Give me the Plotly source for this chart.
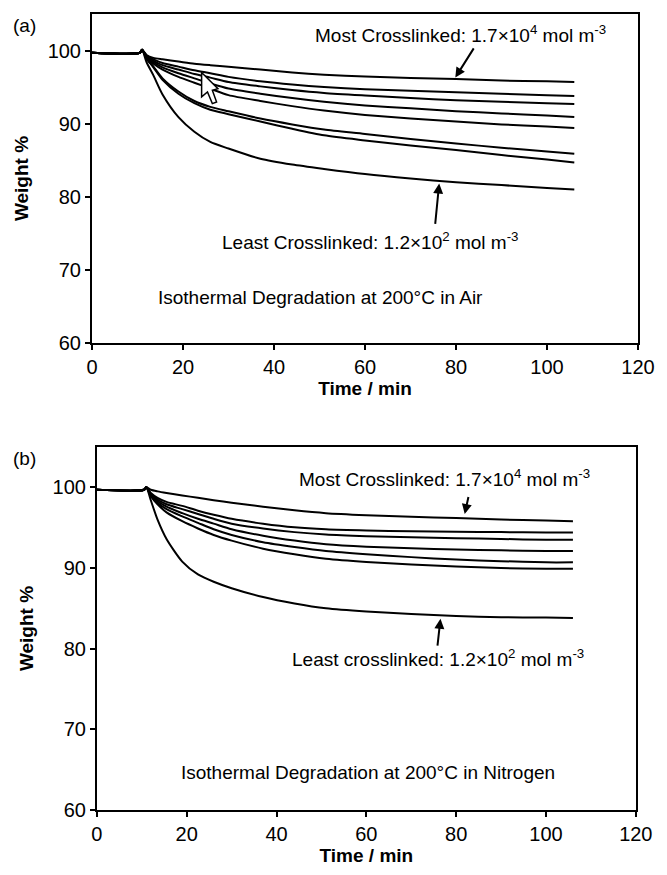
import plotly.graph_objects as go

# ---------------- data ----------------
time_min = [0, 10.5, 11, 12, 13.5, 15.5, 19, 22.5, 26, 30, 37, 44, 51, 60, 70, 80, 90, 100, 106]

air_curves = [
    [99.7, 99.7, 100.1, 99.4, 99.0, 98.8, 98.5, 98.2, 98.0, 97.8, 97.4, 97.0, 96.7, 96.45, 96.25, 96.1, 95.9, 95.8, 95.7],
    [99.7, 99.7, 100.1, 99.3, 98.8, 98.3, 97.8, 97.3, 96.9, 96.4, 95.8, 95.35, 95.0, 94.7, 94.5, 94.3, 94.1, 93.9, 93.8],
    [99.7, 99.7, 100.1, 99.2, 98.6, 98.0, 97.4, 96.8, 96.3, 95.7, 95.1, 94.6, 94.2, 93.85, 93.5, 93.2, 93.0, 92.8, 92.7],
    [99.7, 99.7, 100.1, 99.1, 98.4, 97.7, 96.9, 96.2, 95.5, 94.8, 94.1, 93.5, 93.0, 92.5, 92.1, 91.7, 91.4, 91.1, 90.9],
    [99.7, 99.7, 100.1, 99.0, 98.2, 97.4, 96.4, 95.6, 94.8, 93.9, 93.1, 92.4, 91.8, 91.2, 90.7, 90.3, 89.9, 89.6, 89.4],
    [99.7, 99.7, 100.1, 98.9, 97.8, 96.2, 94.4, 93.1, 92.3, 91.7, 90.7, 89.9, 89.2, 88.6, 87.9, 87.3, 86.7, 86.2, 85.9],
    [99.7, 99.7, 100.1, 98.9, 97.7, 96.0, 94.1, 92.8, 91.9, 91.3, 90.3, 89.3, 88.4, 87.7, 87.0, 86.4, 85.7, 85.1, 84.7],
    [99.7, 99.7, 100.1, 98.4, 96.6, 94.0, 90.9, 88.9, 87.5, 86.6, 85.2, 84.4, 83.8, 83.1, 82.5, 82.0, 81.6, 81.2, 81.0],
]

n2_curves = [
    [99.7, 99.7, 100.0, 99.7, 99.5, 99.3, 99.0, 98.7, 98.4, 98.1, 97.6, 97.15, 96.8, 96.55, 96.35, 96.2, 96.0, 95.9, 95.8],
    [99.7, 99.7, 100.0, 99.3, 98.7, 98.2, 97.7, 97.1, 96.6, 96.1, 95.5, 95.05, 94.8, 94.65, 94.55, 94.5, 94.45, 94.4, 94.4],
    [99.7, 99.7, 100.0, 99.2, 98.5, 97.9, 97.3, 96.7, 96.1, 95.5, 94.9, 94.45, 94.15, 93.95, 93.8, 93.7, 93.6, 93.5, 93.5],
    [99.7, 99.7, 100.0, 99.1, 98.3, 97.6, 96.8, 96.1, 95.5, 94.8, 94.0, 93.4, 92.95, 92.65, 92.45, 92.3, 92.2, 92.1, 92.1],
    [99.7, 99.7, 100.0, 99.0, 98.1, 97.3, 96.4, 95.6, 94.8, 94.1, 93.2, 92.6, 92.1, 91.7, 91.35, 91.05, 90.85, 90.7, 90.7],
    [99.7, 99.7, 100.0, 98.9, 97.9, 96.9, 95.8, 94.9, 94.1, 93.4, 92.4, 91.7, 91.15, 90.75, 90.45, 90.2, 90.0, 89.9, 89.9],
    [99.7, 99.7, 100.0, 98.4, 96.0, 93.6, 90.8, 89.2, 88.3, 87.5, 86.4, 85.6, 85.0, 84.6, 84.3, 84.05, 83.9, 83.85, 83.8],
]

x_ticks = [0, 20, 40, 60, 80, 100, 120]
y_ticks = [60, 70, 80, 90, 100]

FONT = "Liberation Sans, Arial, sans-serif"

fig = go.Figure()

for ys in air_curves:
    fig.add_trace(go.Scatter(x=time_min, y=ys, mode="lines", xaxis="x", yaxis="y",
                             line=dict(color="black", width=2, shape="spline", smoothing=0.7),
                             showlegend=False, hoverinfo="skip"))
for ys in n2_curves:
    fig.add_trace(go.Scatter(x=time_min, y=ys, mode="lines", xaxis="x2", yaxis="y2",
                             line=dict(color="black", width=2, shape="spline", smoothing=0.7),
                             showlegend=False, hoverinfo="skip"))

axis_common = dict(
    showline=True, linecolor="black", linewidth=2, mirror=True,
    ticks="outside", ticklen=5, tickwidth=2, tickcolor="black",
    showgrid=False, zeroline=False,
    tickfont=dict(family=FONT, size=20, color="black"),
)

title_font = dict(family=FONT, size=19, color="black")

fig.update_layout(
    width=667, height=875,
    margin=dict(l=92, r=17, t=14, b=65),
    paper_bgcolor="white", plot_bgcolor="white",
    xaxis=dict(domain=[0, 1], anchor="y", range=[0, 120], tickvals=x_ticks,
               title=dict(text="<b>Time / min</b>", font=title_font, standoff=2), **axis_common),
    yaxis=dict(domain=[0.5867, 1], anchor="x", range=[60, 105], tickvals=y_ticks,
               title=dict(text="<b>Weight %</b>", font=title_font, standoff=14), **axis_common),
    xaxis2=dict(domain=[0.009, 0.996], anchor="y2", range=[0, 120], tickvals=x_ticks,
                title=dict(text="<b>Time / min</b>", font=title_font, standoff=2), **axis_common),
    yaxis2=dict(domain=[0, 0.456], anchor="x2", range=[60, 105], tickvals=y_ticks,
                title=dict(text="<b>Weight %</b>", font=title_font, standoff=14), **axis_common),
)

ann_font = dict(family=FONT, size=19, color="black")

texts = [
    ("x", "y", 81, 102.3, "Most Crosslinked: 1.7×10<sup>4</sup> mol m<sup>-3</sup>"),
    ("x", "y", 61, 74.0, "Least Crosslinked: 1.2×10<sup>2</sup> mol m<sup>-3</sup>"),
    ("x", "y", 50.3, 66.2, "Isothermal Degradation at 200°C in Air"),
    ("x2", "y2", 77.4, 101.1, "Most Crosslinked: 1.7×10<sup>4</sup> mol m<sup>-3</sup>"),
    ("x2", "y2", 76.0, 78.8, "Least crosslinked: 1.2×10<sup>2</sup> mol m<sup>-3</sup>"),
    ("x2", "y2", 60.4, 64.7, "Isothermal Degradation at 200°C in Nitrogen"),
]
for xr, yr, xx, yy, tx in texts:
    fig.add_annotation(xref=xr, yref=yr, x=xx, y=yy, text=tx, showarrow=False,
                       font=ann_font, xanchor="center", yanchor="middle")

arrows = [
    ("x", "y", 79.85, 96.3, 84.1, 100.5),
    ("x", "y", 76.3, 81.8, 75.4, 76.1),
    ("x2", "y2", 81.9, 96.7, 82.8, 99.0),
    ("x2", "y2", 76.5, 83.7, 75.8, 80.2),
]
for xr, yr, hx, hy, tx, ty in arrows:
    fig.add_annotation(xref=xr, yref=yr, axref=xr, ayref=yr, x=hx, y=hy, ax=tx, ay=ty,
                       text="", showarrow=True, arrowhead=2, arrowsize=1, arrowwidth=2,
                       arrowcolor="black")

# hollow pointer arrow (direction of increasing crosslinking)
fig.add_shape(type="path", xref="x", yref="y",
              path="M 24.09 96.99 L 24.09 93.66 L 25.38 94.34 L 26.45 92.74 L 27.38 92.97 "
                   "L 26.45 94.56 L 27.68 94.79 Z",
              fillcolor="white", line=dict(color="black", width=1.5), layer="above")

fig.add_annotation(xref="paper", yref="paper", x=-0.1237, y=0.985, text="(a)",
                   showarrow=False, font=dict(family=FONT, size=19, color="black"),
                   xanchor="center", yanchor="middle")
fig.add_annotation(xref="paper", yref="paper", x=-0.1237, y=0.441, text="(b)",
                   showarrow=False, font=dict(family=FONT, size=19, color="black"),
                   xanchor="center", yanchor="middle")

fig.write_html("out.html")
